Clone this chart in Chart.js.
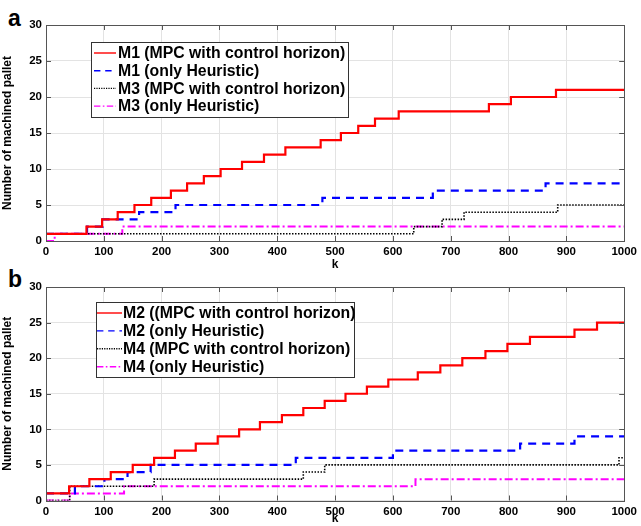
<!DOCTYPE html>
<html>
<head>
<meta charset="utf-8">
<script src="https://cdn.jsdelivr.net/npm/chart.js@4.4.1/dist/chart.umd.min.js"></script>
<style>
  body { margin: 0; background: #fff; width: 641px; height: 526px; overflow: hidden; position: relative; }
  canvas { position: absolute; left: 0; }
  #chartA { top: 0; }
  #chartB { top: 262px; }
  .tag { position: absolute; left: 8px; font: bold 23px/23px 'Liberation Sans', Arial, sans-serif; }
</style>
</head>
<body>
<div class="tag" style="top:7px">a</div>
<div class="tag" style="top:268px">b</div>
<canvas id="chartA" width="641" height="272"></canvas>
<canvas id="chartB" width="641" height="264"></canvas>
<script>
// step positions (k) and machined pallet counts
const xTicks = [0, 100, 200, 300, 400, 500, 600, 700, 800, 900, 1000];
const yTicks = [0, 5, 10, 15, 20, 25, 30];

// panel a
const m1MpcK  = [0, 70, 97, 124, 153, 182, 216, 244, 273, 302, 339, 377, 414, 475, 510, 540, 569, 610, 766, 804, 882];
const m1MpcV  = [1, 2, 3, 4, 5, 6, 7, 8, 9, 10, 11, 12, 13, 14, 15, 16, 17, 18, 19, 20, 21];
const m1HeurK = [0, 71, 98, 161, 224, 478, 669, 864];
const m1HeurV = [1, 2, 3, 4, 5, 6, 7, 8];
const m3MpcK  = [0, 636, 685, 723, 885];
const m3MpcV  = [1, 2, 3, 4, 5];
const m3HeurK = [0, 15, 132];
const m3HeurV = [0, 1, 2];

// panel b
const m2MpcK  = [0, 40, 75, 112, 150, 187, 223, 259, 297, 334, 370, 408, 445, 482, 518, 555, 592, 643, 682, 720, 760, 798, 837, 914, 953];
const m2MpcV  = [1, 2, 3, 4, 5, 6, 7, 8, 9, 10, 11, 12, 13, 14, 15, 16, 17, 18, 19, 20, 21, 22, 23, 24, 25];
const m2HeurK = [0, 50, 101, 141, 181, 432, 600, 820, 914];
const m2HeurV = [1, 2, 3, 4, 5, 6, 7, 8, 9];
const m4MpcK  = [0, 41, 187, 445, 482, 991];
const m4MpcV  = [0, 2, 3, 4, 5, 6];
const m4HeurK = [0, 41, 135, 639];
const m4HeurV = [0, 1, 2, 3];

const FONT = "'Liberation Sans', Arial, sans-serif";

function steps(ks, vs) {
  const pts = ks.map((k, i) => ({ x: k, y: vs[i] }));
  pts.push({ x: 1000, y: vs[vs.length - 1] });
  return pts;
}

const styles = [
  { borderColor: '#ff0000', borderWidth: 2.2, borderDash: [] },
  { borderColor: '#0000ff', borderWidth: 2.2, borderDash: [8, 6] },
  { borderColor: '#000000', borderWidth: 1.6, borderDash: [1.5, 1.5] },
  { borderColor: '#ff00ff', borderWidth: 2, borderDash: [8, 3, 2, 3] }
];

// box + inward ticks like the original axes
const frame = {
  id: 'frame',
  afterDatasetsDraw(chart) {
    const { ctx, chartArea: a, scales: { x, y } } = chart;
    ctx.save();
    ctx.strokeStyle = '#555';
    ctx.lineWidth = 1;
    ctx.setLineDash([]);
    ctx.beginPath();
    x.ticks.forEach(t => {
      const px = Math.round(x.getPixelForValue(t.value)) + 0.5;
      ctx.moveTo(px, a.bottom); ctx.lineTo(px, a.bottom - 5);
      ctx.moveTo(px, a.top); ctx.lineTo(px, a.top + 5);
    });
    y.ticks.forEach(t => {
      const py = Math.round(y.getPixelForValue(t.value)) + 0.5;
      ctx.moveTo(a.left, py); ctx.lineTo(a.left + 5, py);
      ctx.moveTo(a.right, py); ctx.lineTo(a.right - 5, py);
    });
    ctx.stroke();
    ctx.strokeRect(Math.round(a.left) + 0.5, Math.round(a.top) + 0.5, Math.round(a.right - a.left), Math.round(a.bottom - a.top));
    ctx.restore();
  }
};

const boxLegend = {
  id: 'boxLegend',
  afterDraw(chart, args, o) {
    const ctx = chart.ctx;
    ctx.save();
    ctx.fillStyle = '#fff';
    ctx.fillRect(o.x, o.y, o.w, o.h);
    ctx.strokeStyle = '#333';
    ctx.lineWidth = 1;
    ctx.strokeRect(o.x + 0.5, o.y + 0.5, o.w, o.h);
    ctx.font = 'bold 15.8px ' + FONT;
    ctx.textBaseline = 'middle';
    chart.data.datasets.forEach((ds, i) => {
      const yy = o.y + o.first + i * o.row;
      ctx.strokeStyle = ds.borderColor;
      ctx.lineWidth = 1.4;
      ctx.setLineDash(ds.borderDash.length ? ds.borderDash.map(d => d * 0.8) : []);
      ctx.beginPath();
      ctx.moveTo(o.x + o.lineX, yy);
      ctx.lineTo(o.x + o.lineX + o.line, yy);
      ctx.stroke();
      ctx.setLineDash([]);
      ctx.fillStyle = '#000';
      ctx.fillText(ds.label, o.x + o.textX, yy + 1);
    });
    ctx.restore();
  }
};

function makeChart(id, labels, series, legend, xAxisH) {
  const datasets = series.map((s, i) => Object.assign({
    label: labels[i],
    data: steps(s[0], s[1]),
    stepped: true,
    pointRadius: 0,
    fill: false
  }, styles[i]));

  new Chart(document.getElementById(id), {
    type: 'line',
    data: { datasets },
    options: {
      responsive: false,
      animation: false,
      layout: { padding: { top: 25, right: 11, left: 0, bottom: 0 } },
      plugins: { legend: { display: false }, tooltip: { enabled: false }, boxLegend: legend },
      scales: {
        x: {
          type: 'linear', min: 0, max: 1000,
          afterBuildTicks: (s) => { s.ticks = xTicks.map(v => ({ value: v })); },
          afterFit: (s) => { s.height = xAxisH; },
          grid: { color: '#e3e3e3', drawTicks: false },
          border: { display: false },
          ticks: { color: '#000', padding: 4, callback: (v) => String(v), font: { family: FONT, size: 11.5, weight: 'bold' } },
          title: { display: true, text: 'k', color: '#000', padding: 0, font: { family: FONT, size: 12, weight: 'bold' } }
        },
        y: {
          min: 0, max: 30,
          afterBuildTicks: (s) => { s.ticks = yTicks.map(v => ({ value: v })); },
          afterFit: (s) => { s.width = 46; },
          grid: { color: '#e3e3e3', drawTicks: false },
          border: { display: false },
          ticks: { color: '#000', padding: 4, callback: (v) => String(v), font: { family: FONT, size: 11.5, weight: 'bold' } },
          title: { display: true, text: 'Number of machined pallet', color: '#000', padding: { top: 0, bottom: 2 }, font: { family: FONT, size: 12, weight: 'bold' } }
        }
      }
    },
    plugins: [frame, boxLegend]
  });
}

makeChart('chartA',
  ['M1 (MPC with control horizon)', 'M1 (only Heuristic)', 'M3 (MPC with control horizon)', 'M3 (only Heuristic)'],
  [[m1MpcK, m1MpcV], [m1HeurK, m1HeurV], [m3MpcK, m3MpcV], [m3HeurK, m3HeurV]],
  { x: 91, y: 42, w: 257, h: 75, first: 11, row: 17.7, lineX: 3, line: 22, textX: 27 },
  31);

makeChart('chartB',
  ['M2 ((MPC with control horizon)', 'M2 (only Heuristic)', 'M4 (MPC with control horizon)', 'M4 (only Heuristic)'],
  [[m2MpcK, m2MpcV], [m2HeurK, m2HeurV], [m4MpcK, m4MpcV], [m4HeurK, m4HeurV]],
  { x: 96, y: 40, w: 258, h: 75, first: 11, row: 17.9, lineX: 1, line: 25, textX: 27 },
  25.5);
</script>
</body>
</html>
